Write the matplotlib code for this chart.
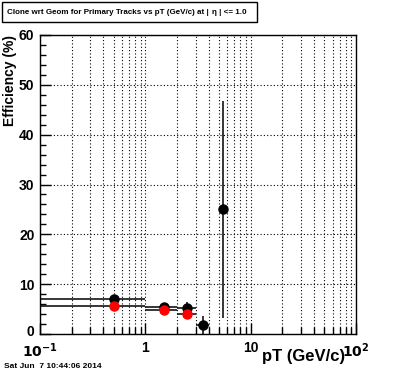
import matplotlib
matplotlib.use("Agg")
import matplotlib.pyplot as plt
import matplotlib.transforms as mtransforms
from matplotlib.ticker import LogLocator, MultipleLocator, FixedLocator, NullFormatter
from matplotlib.patches import Rectangle

plt.rcParams['font.family'] = ['Liberation Sans', 'DejaVu Sans']
plt.rcParams['font.weight'] = 'bold'

# data
pt_black = [0.5, 1.5, 2.5, 3.5, 5.5]
pt_black_lo = [0.5, 0.5, 0.5, 0.5, 0.5]
pt_black_hi = [0.5, 0.5, 0.5, 0.5, 0.5]
eff_black = [7.1, 5.4, 5.2, 1.8, 25.0]
err_black = [0.3, 0.5, 1.3, 1.75, 21.8]

pt_red = [0.5, 1.5, 2.5]
pt_red_lo = [0.5, 0.5, 0.5]
pt_red_hi = [0.5, 0.5, 0.5]
eff_red = [5.7, 4.8, 4.0]
err_red = [0.3, 0.3, 0.5]

x_major = [0.1, 1, 10, 100]
x_major_labels = ['$\\mathbf{10^{-1}}$', '1', '10', '$\\mathbf{10^{2}}$']
y_major = [0, 10, 20, 30, 40, 50, 60]

fig = plt.figure(figsize=(3.96, 3.72), dpi=100)
ax = fig.add_axes([40/396, 1 - 334/372, 316/396, 299/372])

ax.set_xscale('log', nonpositive='clip')
ax.set_xlim(0.1, 100)
ax.set_ylim(0, 60)

ax.errorbar(pt_black, eff_black, xerr=[pt_black_lo, pt_black_hi], yerr=err_black,
            fmt='o', color='black', ecolor='black', ms=6.5, elinewidth=1.1,
            capsize=0, zorder=3)
ax.errorbar(pt_red, eff_red, xerr=[pt_red_lo, pt_red_hi], yerr=err_red,
            fmt='o', color='red', ecolor='black', ms=6.5, elinewidth=1.1,
            capsize=0, zorder=4)

ax.xaxis.set_major_locator(FixedLocator(x_major))
ax.set_xticklabels(x_major_labels)
ax.xaxis.set_minor_locator(LogLocator(base=10, subs=range(2, 10)))
ax.xaxis.set_minor_formatter(NullFormatter())
ax.yaxis.set_major_locator(FixedLocator(y_major))
ax.yaxis.set_minor_locator(MultipleLocator(2))

ax.grid(True, which='both', axis='x', linestyle=(0, (1, 2)), color='black', linewidth=0.8)
ax.grid(True, which='major', axis='y', linestyle=(0, (1, 2)), color='black', linewidth=0.8)

ax.tick_params(which='both', direction='in', top=False, right=False, labelsize=10,
               width=1, color='black')
ax.tick_params(which='major', axis='x', length=8, pad=5)
ax.tick_params(which='minor', axis='x', length=5)
ax.tick_params(which='major', axis='y', length=8, pad=4)
ax.tick_params(which='minor', axis='y', length=4)
for lab in ax.get_xticklabels() + ax.get_yticklabels():
    lab.set_fontweight('bold')
for s in ax.spines.values():
    s.set_linewidth(1)

# lift the "0" label a little so it clears the 10^-1 label, as in the reference
fig.canvas.draw()
zero_lab = ax.get_yticklabels()[0]
zero_lab.set_transform(zero_lab.get_transform() +
                       mtransforms.ScaledTranslation(0, 4/100, fig.dpi_scale_trans))

fig.text(345/396, 1 - 356/372, 'pT (GeV/c)', ha='right', va='center', fontsize=12, fontweight='bold')
fig.text(10/396, 1 - 35/372, 'Efficiency (%)', ha='center', va='top', rotation=90,
         fontsize=10, fontweight='bold')

fig.patches.append(Rectangle((2/396, 1 - 22/372), 255/396, 20/372, transform=fig.transFigure,
                             facecolor='white', edgecolor='black', linewidth=1))
fig.text(7/396, 1 - 12/372, 'Clone wrt Geom for Primary Tracks vs pT (GeV/c) at |',
         ha='left', va='center', fontsize=5.8, fontweight='bold')
fig.text(212/396, 1 - 12/372, 'η | <= 1.0', ha='left', va='center', fontsize=5.8, fontweight='bold')
fig.text(4/396, 1 - 366/372, 'Sat Jun  7 10:44:06 2014', ha='left', va='center', fontsize=6,
         fontweight='bold')

fig.savefig('out.png', dpi=100)
